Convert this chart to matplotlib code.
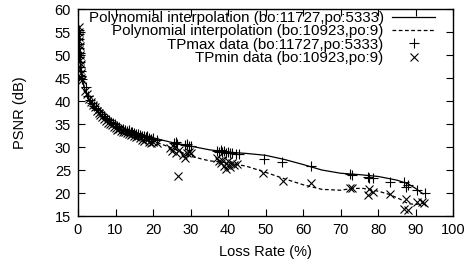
import numpy as np
import matplotlib
matplotlib.use("Agg")
import matplotlib.pyplot as plt

plt.rcParams['font.family'] = ['Liberation Sans', 'DejaVu Sans']

# polynomial interpolation curves
fit_x = [0, 0.3, 0.7, 1, 1.5, 2, 3, 4, 6, 8, 10, 13, 16, 20, 25, 30, 35, 40, 45,
         50, 55, 60, 65, 70, 75, 80, 85, 88, 90, 92]
fit_max = [56, 51, 47.5, 45.5, 43.5, 42, 40, 38.8, 37, 35.8, 34.8, 33.8, 33, 32, 31,
           30.2, 29.4, 28.9, 28.6, 28.2, 27.3, 26.2, 25, 24.3, 24, 23.6, 22.8, 22, 21, 19.8]
fit_min_x = [0, 0.3, 0.7, 1, 1.5, 2, 3, 4, 6, 8, 10, 13, 16, 20, 25, 30, 35, 40, 45,
             50, 55, 60, 65, 70, 73, 76, 80, 83, 86, 88, 90, 92]
fit_min = [56, 51, 47.5, 45.5, 43.5, 42, 40, 38.8, 37, 35.8, 34.6, 33.4, 32.5, 31.3, 29.8,
           28, 27, 26.6, 25.8, 24.5, 23.1, 21.8, 20.8, 20.6, 21, 21, 20.4, 19.7, 18.6, 17.7,
           17.5, 17.8]

# TPmax data (+)
max_x = [0.2, 0.3, 0.2, 0.4, 0.3, 0.5, 0.4, 0.6, 0.5, 0.7, 0.8, 1.0,
         2.2, 2.8, 3.2, 3.8, 4.3, 4.8, 5.3, 5.8, 6.3, 6.8, 7.3, 7.8, 8.3, 8.8, 9.3, 9.8,
         10.5, 11, 11.5, 12, 12.5, 13, 13.5, 14, 14.5, 15, 15.5, 16, 16.5, 17, 17.5, 18,
         18.5, 19, 19.5, 20, 21, 25.5, 26, 26.5, 28.5, 29, 29.5, 30, 37, 37.5, 38, 38.5,
         39, 39.5, 40, 40.5, 41, 42, 43, 49.5, 54.5, 62, 72.5, 73, 77.3, 77.6, 78.7,
         83.2, 86.8, 87.5, 88, 90.3, 92.5]
max_y = [55.5, 54.5, 53.5, 52.5, 51.5, 50.5, 49.5, 48.5, 47.5, 46.5, 45.5, 44.8,
         43, 41, 40.2, 39.5, 39, 38.5, 38, 37.6, 37.2, 36.8, 36.4, 36, 35.8, 35.4, 35.2, 34.9,
         34.6, 34.3, 34, 33.9, 33.7, 33.5, 33.6, 33.2, 33.3, 33, 32.8, 32.9, 32.6, 32.4, 32.5,
         32.2, 32.3, 32, 31.8, 31.9, 31.6, 30.9, 31, 30.6, 30.4, 30.6, 30.3, 30.2, 29.2, 29,
         29.3, 28.9, 29.1, 28.7, 29, 28.8, 28.6, 28.5, 28.4, 27.4, 26.8, 25.9, 24.2, 24.0,
         23.4, 23.2, 23.2, 22.4, 22.3, 21.3, 21.8, 20.6, 20]

# TPmin data (x)
min_x = [0.2, 0.3, 0.4, 0.3, 0.5, 0.4, 0.5, 0.6, 0.7, 0.6, 0.8, 0.9, 1.0,
         2.0, 2.5, 3, 3.5, 4, 4.5, 5, 5.5, 6, 6.5, 7, 7.5, 8, 8.5, 9, 9.5, 10, 10.5, 11,
         11.5, 12, 12.5, 13, 13.5, 14, 14.5, 15, 15.5, 16, 16.5, 17, 17.5, 18, 19, 19.5,
         20, 21, 24.5, 25, 25.5, 26, 26.7, 27, 28, 28.5, 29, 29.5, 30, 37, 37.5, 38, 38.5,
         39, 39.5, 40, 40, 40.5, 41, 41.5, 42.5, 49.4, 54.6, 62.1, 72.5, 73, 77.3, 77.6,
         78.7, 83.2, 86.8, 87.5, 88, 90.3, 91.8, 92.3]
min_y = [56, 55, 54, 53, 52, 51, 50, 49, 48, 47, 46, 45, 44.5,
         42.2, 41.5, 40.5, 39.8, 39.2, 38.6, 37.8, 37.4, 37, 36.5, 36, 35.6, 35.2, 35, 34.8,
         34.4, 34.2, 33.8, 33.9, 33.4, 33.2, 33.3, 33, 32.8, 32.6, 32.9, 32.5, 32.2, 32.4,
         31.9, 31.6, 31.4, 31.8, 31, 30.8, 31.2, 30.8, 29.8, 29.2, 30, 28.8, 23.7, 29.4,
         28.2, 27.6, 28.6, 29, 28.8, 27.6, 27, 26.5, 27.2, 25.8, 25.2, 26.2, 27, 25.6, 26.5,
         26, 26.4, 24.3, 22.6, 22.2, 21.1, 21.1, 19.6, 20.8, 20.3, 19.8, 16.5, 18.7, 16.3,
         18, 18, 17.8]

fs = 10.5

fig = plt.figure(figsize=(4.77, 2.67), dpi=100)
ax = fig.add_axes([0.1635, 0.191, 0.7865, 0.775])

ax.plot(fit_x, fit_max, color='black', lw=0.9,
        label='Polynomial interpolation (bo:11727,po:5333)')
ax.plot(fit_min_x, fit_min, color='black', lw=0.9, ls=(0, (3, 2)),
        label='Polynomial interpolation (bo:10923,po:9)')
ax.plot(max_x, max_y, ls='none', marker='+', ms=6.5, mew=0.8, color='black',
        label='TPmax data (bo:11727,po:5333)')
ax.plot(min_x, min_y, ls='none', marker='x', ms=5.5, mew=0.8, color='black',
        label='TPmin data (bo:10923,po:9)')

ax.set_xlim(0, 100)
ax.set_ylim(15, 60)
ax.set_xticks(np.arange(0, 101, 10))
ax.set_yticks(np.arange(15, 61, 5))
ax.tick_params(direction='in', length=5, width=0.8, top=True, right=True,
               labelsize=fs, pad=5)
for s in ax.spines.values():
    s.set_linewidth(1)

ax.set_xlabel('Loss Rate (%)', fontsize=fs, labelpad=6)
ax.set_ylabel('PSNR (dB)', fontsize=fs, labelpad=20)

ax.legend(loc='upper right', frameon=False, markerfirst=False, fontsize=10.9,
          handlelength=2.85, labelspacing=-0.05, borderpad=0, borderaxespad=0,
          handletextpad=0.55, bbox_to_anchor=(0.952, 0.99))

fig.savefig('out.png', dpi=100)
